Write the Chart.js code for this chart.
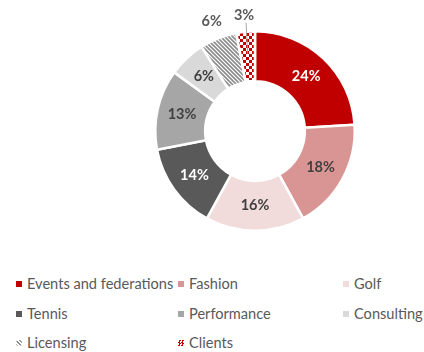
<!DOCTYPE html>
<html>
<head>
<meta charset="utf-8">
<script src="https://cdn.jsdelivr.net/npm/chart.js@4"></script>
<style>
  html, body { margin: 0; padding: 0; background: #fff; }
  #wrap { position: relative; width: 424px; height: 352px; }
  #pie { position: absolute; left: 0; top: 0; }
  #legend { position: absolute; left: 0; top: 280px; width: 424px; font-family: Lato, "Open Sans", sans-serif; font-size: 14.6px; color: #595959; }
  .item { position: absolute; display: flex; align-items: center; white-space: nowrap; line-height: 16px; }
  .mk { width: 6px; height: 6px; margin-right: 5px; }
</style>
</head>
<body>
<div id="wrap">
  <canvas id="pie" width="424" height="270"></canvas>
  <div id="legend"></div>
</div>
<script>
const categories = ["Events and federations", "Fashion", "Golf", "Tennis", "Performance", "Consulting", "Licensing", "Clients"];
const shares = [24, 18, 16, 14, 13, 6, 6, 3];
const sliceColors = ["#C00000", "#D99594", "#F2DCDB", "#595959", "#A6A6A6", "#D9D9D9", "stripes", "checker"];
const labelColors = ["#ffffff", "#404040", "#404040", "#ffffff", "#404040", "#404040", "#595959", "#595959"];
const outsideLabels = [false, false, false, false, false, false, true, true];

function stripePattern() {
  const c = document.createElement("canvas");
  c.width = 4; c.height = 4;
  const g = c.getContext("2d");
  g.fillStyle = "#ffffff"; g.fillRect(0, 0, 4, 4);
  g.strokeStyle = "#8C8C8C"; g.lineWidth = 1.6;
  g.beginPath();
  g.moveTo(-1, -1); g.lineTo(5, 5);
  g.moveTo(-1, 3); g.lineTo(1, 5);
  g.moveTo(3, -1); g.lineTo(5, 1);
  g.stroke();
  return g.createPattern(c, "repeat");
}
function checkerPattern() {
  const c = document.createElement("canvas");
  c.width = 6; c.height = 6;
  const g = c.getContext("2d");
  g.fillStyle = "#C00000"; g.fillRect(0, 0, 6, 6);
  g.fillStyle = "#ffffff";
  g.fillRect(0, 0, 3, 3); g.fillRect(3, 3, 3, 3);
  return g.createPattern(c, "repeat");
}
function fillFor(c) {
  if (c === "stripes") return stripePattern();
  if (c === "checker") return checkerPattern();
  return c;
}

const valueLabels = {
  id: "valueLabels",
  afterDatasetsDraw(chart) {
    const ctx = chart.ctx;
    const meta = chart.getDatasetMeta(0);
    ctx.save();
    ctx.font = "bold 14.5px Lato, 'Open Sans', sans-serif";
    ctx.textAlign = "center";
    ctx.textBaseline = "middle";
    meta.data.forEach((arc, i) => {
      const p = arc.getProps(["x", "y", "startAngle", "endAngle", "innerRadius", "outerRadius"], true);
      const mid = (p.startAngle + p.endAngle) / 2;
      const text = shares[i] + "%";
      let r, x, y;
      if (outsideLabels[i]) {
        r = p.outerRadius + (i === 7 ? 16 : 18);
        x = p.x + Math.cos(mid) * r;
        y = p.y + Math.sin(mid) * r;
        if (i === 7) {
          ctx.strokeStyle = "#A6A6A6";
          ctx.lineWidth = 1;
          const r2 = p.outerRadius - 22;
          ctx.beginPath();
          ctx.moveTo(x + 2, y + 7);
          ctx.lineTo(p.x + Math.cos(mid) * r2, p.y + Math.sin(mid) * r2);
          ctx.stroke();
        }
      } else {
        r = (p.innerRadius + p.outerRadius) / 2;
        x = p.x + Math.cos(mid) * r;
        y = p.y + Math.sin(mid) * r;
      }
      ctx.fillStyle = labelColors[i];
      ctx.fillText(text, x, y);
    });
    ctx.restore();
  }
};

new Chart(document.getElementById("pie"), {
  type: "doughnut",
  data: {
    labels: categories,
    datasets: [{
      data: shares,
      backgroundColor: sliceColors.map(fillFor),
      borderColor: "#ffffff",
      borderWidth: 2.5
    }]
  },
  options: {
    responsive: false,
    animation: false,
    cutout: "50%",
    layout: { padding: { left: 154, right: 68, top: 30, bottom: 38 } },
    plugins: { legend: { display: false }, tooltip: { enabled: false } }
  },
  plugins: [valueLabels]
});

// legend grid: three columns
const colX = [16, 178, 343];
const rowY = [4, 34, 63];
const legend = document.getElementById("legend");
categories.forEach((name, i) => {
  const item = document.createElement("div");
  item.className = "item";
  item.style.left = colX[i % 3] + "px";
  item.style.top = (rowY[Math.floor(i / 3)] - 8) + "px";
  const mk = document.createElement("span");
  mk.className = "mk";
  const c = sliceColors[i];
  if (c === "stripes") {
    mk.style.background = "repeating-linear-gradient(45deg, #8C8C8C 0 1.5px, #ffffff 1.5px 3px)";
    mk.style.borderRadius = "50%";
  } else if (c === "checker") {
    mk.style.background = "conic-gradient(#C00000 0 25%, #ffffff 0 50%, #C00000 0 75%, #ffffff 0) 0 0 / 3px 3px";
  } else {
    mk.style.background = c;
  }
  const tx = document.createElement("span");
  tx.textContent = name;
  item.appendChild(mk);
  item.appendChild(tx);
  legend.appendChild(item);
});
</script>
</body>
</html>
